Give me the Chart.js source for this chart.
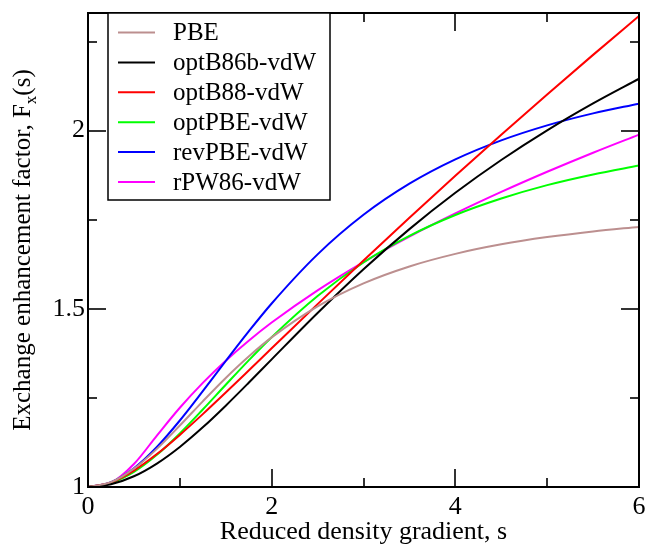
<!DOCTYPE html>
<html>
<head>
<meta charset="utf-8">
<script src="https://cdn.jsdelivr.net/npm/chart.js@4.4.1/dist/chart.umd.min.js"></script>
<style>
  body { margin: 0; background: #fff; }
  #wrap { width: 649px; height: 548px; }
</style>
</head>
<body>
<div id="wrap"><canvas id="myChart" width="649" height="548"></canvas></div>
<script>
// reduced density gradient s (x axis)
const sValues = [0, 0.25, 0.5, 0.75, 1, 1.25, 1.5, 1.75, 2, 2.5, 3, 3.5, 4, 4.5, 5, 5.5, 6];

// enhancement factor Fx(s)
const pbe = [1, 1.0135, 1.0514, 1.107, 1.1724, 1.2404, 1.306, 1.3661, 1.4197, 1.5069, 1.5714, 1.6189, 1.6542, 1.6809, 1.7013, 1.7172, 1.7298];
const optB86b = [1, 1.0077, 1.0301, 1.0658, 1.1124, 1.1674, 1.2282, 1.2924, 1.3581, 1.4882, 1.611, 1.7236, 1.8255, 1.9175, 2.0007, 2.0763, 2.1455];
const optB88 = [1, 1.0129, 1.0462, 1.0924, 1.1462, 1.2045, 1.2651, 1.3269, 1.3891, 1.5132, 1.6356, 1.7556, 1.8732, 1.9885, 2.1015, 2.2125, 2.3217];
const optPBE = [1, 1.0109, 1.0421, 1.0902, 1.1503, 1.2174, 1.2868, 1.3553, 1.4204, 1.536, 1.63, 1.7046, 1.7632, 1.8094, 1.847, 1.877, 1.902];
const revPBE = [1, 1.0136, 1.0526, 1.1123, 1.1866, 1.2689, 1.3536, 1.4365, 1.5149, 1.6527, 1.7637, 1.851, 1.9192, 1.9726, 2.0148, 2.0484, 2.0755];
const rPW86 = [1, 1.0113, 1.0644, 1.1443, 1.2224, 1.2923, 1.3545, 1.4104, 1.4614, 1.5519, 1.6312, 1.7025, 1.7675, 1.8279, 1.8845, 1.938, 1.9888];

const seriesNames = ["PBE", "optB86b-vdW", "optB88-vdW", "optPBE-vdW", "revPBE-vdW", "rPW86-vdW"];
const seriesData = [pbe, optB86b, optB88, optPBE, revPBE, rPW86];
const seriesColors = ["#bc8f8f", "#000000", "#ff0000", "#00ff00", "#0000ff", "#ff00ff"];

const xTicks = [0, 1, 2, 3, 4, 5, 6];            // 0,2,4,6 major
const yTicks = [1, 1.25, 1.5, 1.75, 2, 2.25];     // 1,1.5,2 major

const FONT = "'Liberation Serif', 'Times New Roman', serif";
const FS = 26;   // ticks, x title
const FS2 = 25;  // legend, y title

function toPoints(ys) {
  const pts = [];
  for (let i = 0; i < sValues.length; i++) pts.push({ x: sValues[i], y: ys[i] });
  return pts;
}

const datasets = [];
for (let i = 0; i < seriesNames.length; i++) {
  datasets.push({
    label: seriesNames[i],
    data: toPoints(seriesData[i]),
    borderColor: seriesColors[i],
    backgroundColor: seriesColors[i],
    borderWidth: 2,
    pointRadius: 0,
    cubicInterpolationMode: "monotone",
    fill: false,
  });
}

// frame, inward ticks, axis titles and boxed legend
const decorations = {
  id: "decorations",
  afterDatasetsDraw(chart) {
    const ctx = chart.ctx;
    const a = chart.chartArea;
    const xs = chart.scales.x;
    const ys = chart.scales.y;
    ctx.save();

    // ticks
    ctx.strokeStyle = "#333";
    ctx.lineWidth = 2;
    ctx.beginPath();
    xTicks.forEach(v => {
      const px = Math.round(xs.getPixelForValue(v));
      const len = v % 2 === 0 ? 18 : 9;
      ctx.moveTo(px, a.bottom); ctx.lineTo(px, a.bottom - len);
      ctx.moveTo(px, a.top); ctx.lineTo(px, a.top + len);
    });
    yTicks.forEach(v => {
      const py = Math.round(ys.getPixelForValue(v));
      const len = (v * 2) % 1 === 0 ? 18 : 9;
      ctx.moveTo(a.left, py); ctx.lineTo(a.left + len, py);
      ctx.moveTo(a.right, py); ctx.lineTo(a.right - len, py);
    });
    ctx.stroke();

    // frame
    ctx.strokeStyle = "#000";
    ctx.lineWidth = 2;
    ctx.strokeRect(a.left, a.top, a.right - a.left, a.bottom - a.top);

    // legend box
    const lx = 108, ly = a.top, lw = 222, lh = 187;
    ctx.fillStyle = "#fff";
    ctx.fillRect(lx, ly, lw, lh);
    ctx.lineWidth = 1.5;
    ctx.strokeRect(lx, ly, lw, lh);
    ctx.font = FS2 + "px " + FONT;
    ctx.textBaseline = "middle";
    ctx.textAlign = "left";
    chart.data.datasets.forEach((d, i) => {
      const cy = 32.5 + i * 29.9;
      ctx.strokeStyle = d.borderColor;
      ctx.lineWidth = 2;
      ctx.beginPath();
      ctx.moveTo(118, cy); ctx.lineTo(155, cy);
      ctx.stroke();
      ctx.fillStyle = "#000";
      ctx.fillText(d.label, 173, cy + 1);
    });

    // x title
    ctx.font = FS + "px " + FONT;
    ctx.fillStyle = "#000";
    ctx.textAlign = "center";
    ctx.textBaseline = "alphabetic";
    ctx.fillText("Reduced density gradient, s", (a.left + a.right) / 2, 539);

    // y title with subscript
    const main = "Exchange enhancement factor, F";
    const tail = "(s)";
    ctx.font = FS2 + "px " + FONT;
    const w1 = ctx.measureText(main).width;
    const w3 = ctx.measureText(tail).width;
    ctx.font = "17px " + FONT;
    const w2 = ctx.measureText("x").width;
    const total = w1 + w2 + w3;
    ctx.translate(30, (a.top + a.bottom) / 2);
    ctx.rotate(-Math.PI / 2);
    ctx.textAlign = "left";
    let x0 = -total / 2;
    ctx.font = FS2 + "px " + FONT;
    ctx.fillText(main, x0, 0);
    ctx.font = "17px " + FONT;
    ctx.fillText("x", x0 + w1, 6);
    ctx.font = FS2 + "px " + FONT;
    ctx.fillText(tail, x0 + w1 + w2, 0);

    ctx.restore();
  },
};

new Chart(document.getElementById("myChart"), {
  type: "line",
  data: { datasets: datasets },
  options: {
    responsive: false,
    animation: false,
    layout: { padding: { left: 0, right: 10, top: 13, bottom: 0 } },
    plugins: { legend: { display: false }, tooltip: { enabled: false } },
    scales: {
      x: {
        type: "linear",
        min: 0,
        max: 6,
        grid: { display: false, drawTicks: false },
        border: { display: false },
        ticks: {
          stepSize: 2,
          padding: 5,
          color: "#000",
          maxRotation: 0,
          font: { family: FONT, size: FS },
        },
        afterFit: s => { s.height = 61; s.paddingLeft = 0; s.paddingRight = 0; },
      },
      y: {
        type: "linear",
        min: 1,
        max: 2.33,
        grid: { display: false, drawTicks: false },
        border: { display: false },
        ticks: {
          stepSize: 0.5,
          includeBounds: false,
          padding: 3,
          color: "#000",
          font: { family: FONT, size: FS },
          callback: v => String(+v.toFixed(2)),
        },
        afterFit: s => { s.width = 88; s.paddingTop = 0; s.paddingBottom = 0; },
      },
    },
  },
  plugins: [decorations],
});
</script>
</body>
</html>
